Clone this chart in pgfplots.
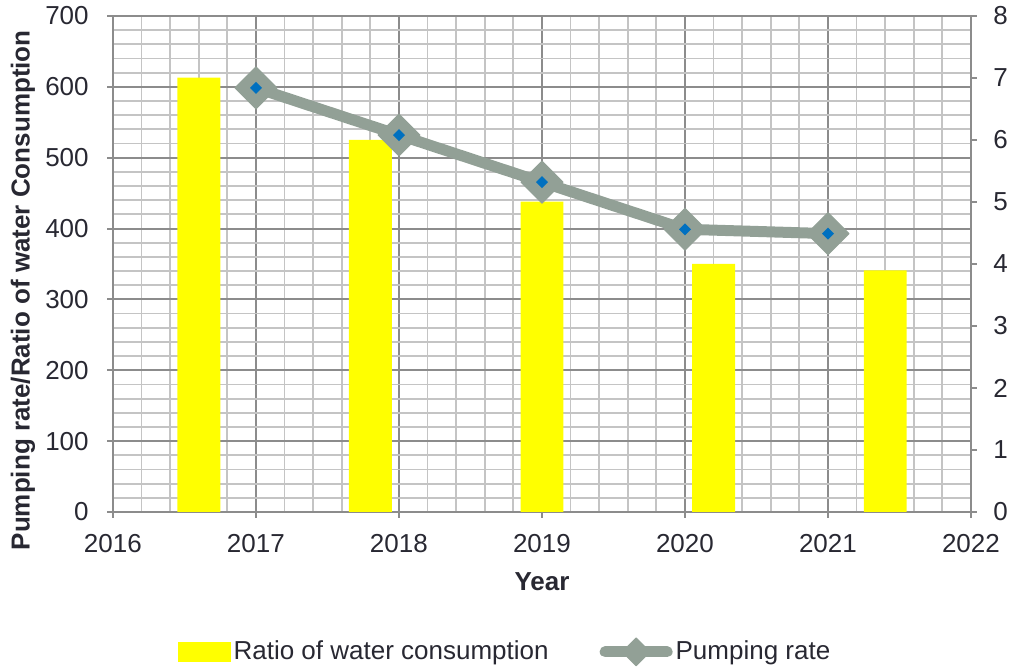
\documentclass[border=0pt]{standalone}
\usepackage{fontspec}
\setmainfont{Liberation Sans}
\usepackage{graphicx}
\usepackage{pgfplots}
\pgfplotsset{compat=1.18}

\definecolor{txt}{RGB}{40,40,50}
\definecolor{gridmaj}{RGB}{140,140,140}
\definecolor{gridmin}{RGB}{196,196,196}
\definecolor{pump}{RGB}{146,160,150}
\definecolor{pumpdot}{RGB}{0,112,192}
\definecolor{barfill}{RGB}{255,255,0}

% diamond with rounded corners (marker of the pumping-rate line)
\pgfdeclareplotmark{rdiamond}{%
  \pgfsetcornersarced{\pgfpoint{2.5pt}{2.5pt}}%
  \pgfpathmoveto{\pgfqpoint{0.5\pgfplotmarksize}{0.5\pgfplotmarksize}}%
  \pgfpathlineto{\pgfqpoint{\pgfplotmarksize}{0pt}}%
  \pgfpathlineto{\pgfqpoint{0pt}{-\pgfplotmarksize}}%
  \pgfpathlineto{\pgfqpoint{-\pgfplotmarksize}{0pt}}%
  \pgfpathlineto{\pgfqpoint{0pt}{\pgfplotmarksize}}%
  \pgfpathclose
  \pgfusepathqfillstroke
}
% plain diamond (inner dot)
\pgfdeclareplotmark{sdiamond}{%
  \pgfpathmoveto{\pgfqpoint{0pt}{\pgfplotmarksize}}%
  \pgfpathlineto{\pgfqpoint{\pgfplotmarksize}{0pt}}%
  \pgfpathlineto{\pgfqpoint{0pt}{-\pgfplotmarksize}}%
  \pgfpathlineto{\pgfqpoint{-\pgfplotmarksize}{0pt}}%
  \pgfpathclose
  \pgfusepathqfill
}

\pgfplotsset{
  barlegend/.style={legend image code/.code={
    \fill[barfill] (0pt,-4.75pt) rectangle (26pt,4.75pt);}},
  pumplegend/.style={legend image code/.code={
    \draw[##1, mark=none] (0pt,0pt) -- (31pt,0pt);
    \draw[##1, mark size=7pt] plot coordinates {(15.5pt,0pt)};}},
}

\pgfplotstableread{
year ratio
2016.6 613
2017.8 525
2019.0 438
2020.2 350
2021.4 341
}\ratiotable

\pgfplotstableread{
year rate
2017 6.84
2018 6.08
2019 5.32
2020 4.56
2021 4.49
}\pumptable

\newcommand{\chartfont}{\fontsize{13}{15.6}\selectfont}

\begin{document}
\begin{tikzpicture}
\path[use as bounding box] (-56.5pt,-77.5pt) rectangle (449pt,256pt);
\pgfplotsset{
  common/.style={
    scale only axis, width=429pt, height=248pt,
    at={(0pt,0pt)}, anchor=south west,
    xmin=2016, xmax=2022,
    font=\chartfont,
    tick label style={text=txt, font=\chartfont},
    label style={text=txt, font=\chartfont\bfseries},
    /pgf/number format/assume math mode=true,
    /pgf/number format/1000 sep={},
    tick align=outside, major tick length=3pt,
    axis line style={gridmaj, line width=1pt},
    major tick style={gridmaj, line width=1pt},
  }
}
\begin{axis}[common,
  ymin=0, ymax=700, ytick distance=100, xtick distance=1,
  minor x tick num=4, minor y tick num=4, minor tick length=0pt,
  xtick pos=bottom, ytick pos=left,
  grid=both,
  major grid style={gridmaj, line width=1pt},
  minor grid style={gridmin, line width=0.9pt},
  xticklabel style={anchor=north, inner sep=0pt, yshift=-8pt},
  yticklabel style={anchor=east, inner sep=0pt, xshift=-9pt},
  xlabel={Year},
  ylabel={Pumping rate/Ratio of water Consumption},
  xlabel style={at={(axis description cs:0.5,-0.1411)}, anchor=center},
  ylabel style={at={(axis description cs:-0.1049,0.447)}, anchor=center},
]
\addplot[ybar, bar width=0.3, bar shift=0pt, fill=barfill, draw=none]
  table[x=year, y=ratio] {\ratiotable};
\end{axis}

\begin{axis}[common,
  hide x axis, axis y line*=right,
  ymin=0, ymax=8, ytick distance=1,
  yticklabel style={anchor=west, inner sep=0pt, xshift=8pt},
  legend columns=2,
  legend style={at={(axis description cs:0.4575,-0.282)}, anchor=center,
    draw=none, fill=none, font=\chartfont, text=txt,
    nodes={inner sep=1.5pt},
    /tikz/every even column/.append style={column sep=24pt}},
]
\addlegendimage{barlegend}
\addlegendentry{Ratio of water consumption}
\addplot[pump, line width=5.5pt, line join=round, line cap=round,
  mark=rdiamond, mark size=10.5pt,
  mark options={fill=pump, draw=pump, line width=0.5pt},
  pumplegend]
  table[x=year, y=rate] {\pumptable};
\addlegendentry{Pumping rate}
\addplot[only marks, mark=sdiamond, mark size=3pt, pumpdot, forget plot]
  table[x=year, y=rate] {\pumptable};
\end{axis}
\end{tikzpicture}
\end{document}
